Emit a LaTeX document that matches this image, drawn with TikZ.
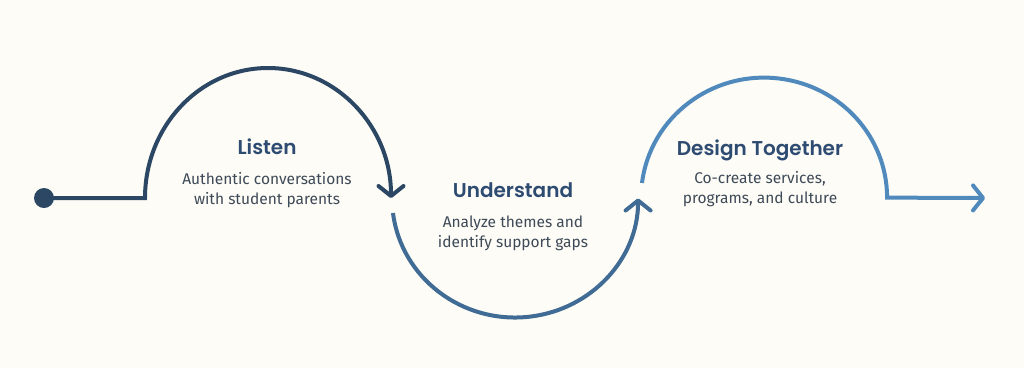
\documentclass[tikz,border=0pt]{standalone}
\usepackage{fontspec}
\setmainfont{Fira Sans}
\newfontfamily\titlefont{Poppins SemiBold}
\usetikzlibrary{calc}
\usetikzlibrary{arrows.meta}

\definecolor{paper}{HTML}{FDFCF6}
\definecolor{listenc}{HTML}{2B4764}
\definecolor{understandc}{HTML}{3F6B94}
\definecolor{designc}{HTML}{5089BC}
\definecolor{headc}{HTML}{2E4B72}
\definecolor{bodyc}{HTML}{3E4A58}

\begin{document}
\begin{tikzpicture}[x=1pt,y=1pt,
  flow/.style={line width=4pt},
  barb/.style={-{Straight Barb[length=10pt,width=25pt,round]}},
  head/.style={font=\titlefont\fontsize{20}{22}\selectfont, text=headc, anchor=base, inner sep=0pt},
  body/.style={font=\fontsize{15.5}{20}\selectfont, text=bodyc, align=center, anchor=base, inner sep=0pt}]
\fill[paper] (0,0) rectangle (1024,-368);
\def\r{123}

% start dot and the three loops
\node[circle, fill=listenc, minimum size=20pt, inner sep=0pt] (dot) at (44,-198) {};
\coordinate (l1) at (145,-198);
\coordinate (u1) at (393,-213);
\coordinate (d1) at (642,-183);
\coordinate (d2) at (887,-198);
\coordinate (end) at (985,-198);

\draw[flow, listenc, barb] (dot.center) -- (l1) arc[start angle=180, end angle=0, x radius=\r, y radius=130];
\draw[flow, understandc, barb] (u1) arc[start angle=187, end angle=360, x radius=\r, y radius=119];
\draw[flow, designc, barb] (d1) arc[start angle=173, end angle=0, x radius=\r, y radius=120] -- (end);

% labels (body base = last line)
\node[head] (listen) at (267,-154) {Listen};
\node[body] (listentxt) at (267,-204) {Authentic conversations\\with student parents};
\node[head] (understand) at (513,-197) {Understand};
\node[body] (understandtxt) at (513,-247) {Analyze themes and\\identify support gaps};
\node[head] (design) at (760,-155) {Design Together};
\node[body] (designtxt) at (760,-203) {Co-create services,\\programs, and culture};
\end{tikzpicture}
\end{document}
